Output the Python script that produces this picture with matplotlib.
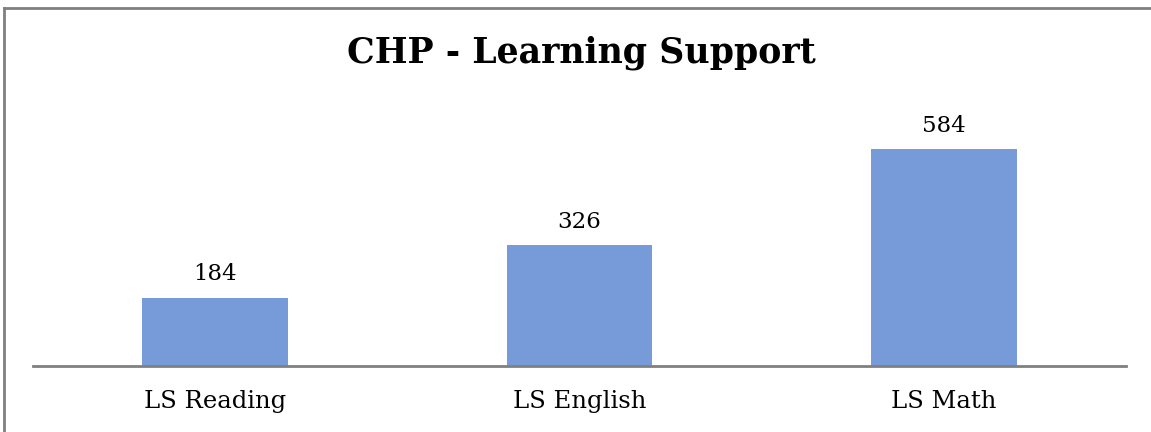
import matplotlib
matplotlib.use("Agg")
import matplotlib.pyplot as plt
from matplotlib.lines import Line2D

# Chart data
categories = ["LS Reading", "LS English", "LS Math"]
values = [184, 326, 584]

W, H = 1151, 432
fig = plt.figure(figsize=(W / 100, H / 100), dpi=100)
plt.rcParams["font.family"] = ["DejaVu Serif"]

# axes placed in pixel terms of the reference
left, right, base, top = 33, 1126, 366, 100
ax = fig.add_axes([left / W, 1 - base / H, (right - left) / W, (base - top) / H])

bar_color = "#779AD8"
x = range(len(categories))
bars = ax.bar(x, values, width=0.4, color=bar_color, zorder=2)
ax.set_xlim(-0.5, len(categories) - 0.5)
ax.set_ylim(0, 716)

for rect, v in zip(bars, values):
    ax.annotate(str(v), (rect.get_x() + rect.get_width() / 2, rect.get_height()),
                xytext=(0, 12.5), textcoords="offset points",
                ha="center", va="baseline", fontsize=16.5, color="black")

ax.set_xticks(list(x))
ax.set_xticklabels(categories, fontsize=17.5, color="black")
ax.tick_params(axis="x", length=0, pad=17)
ax.set_yticks([])
for s in ("left", "right", "top"):
    ax.spines[s].set_visible(False)
ax.spines["bottom"].set_color("#808080")
ax.spines["bottom"].set_linewidth(2)

fig.text(581 / W, 1 - 53 / H, "CHP - Learning Support", ha="center", va="center",
         fontsize=25, fontweight="bold", color="black")

# outer chart border (only left and top visible in the crop)
fig.add_artist(Line2D([3.5 / W, 3.5 / W], [0, 1 - 7.5 / H], transform=fig.transFigure,
                      color="#808080", linewidth=2))
fig.add_artist(Line2D([3.5 / W, 1], [1 - 7.5 / H, 1 - 7.5 / H], transform=fig.transFigure,
                      color="#808080", linewidth=2))

fig.savefig("out.png", dpi=100)
